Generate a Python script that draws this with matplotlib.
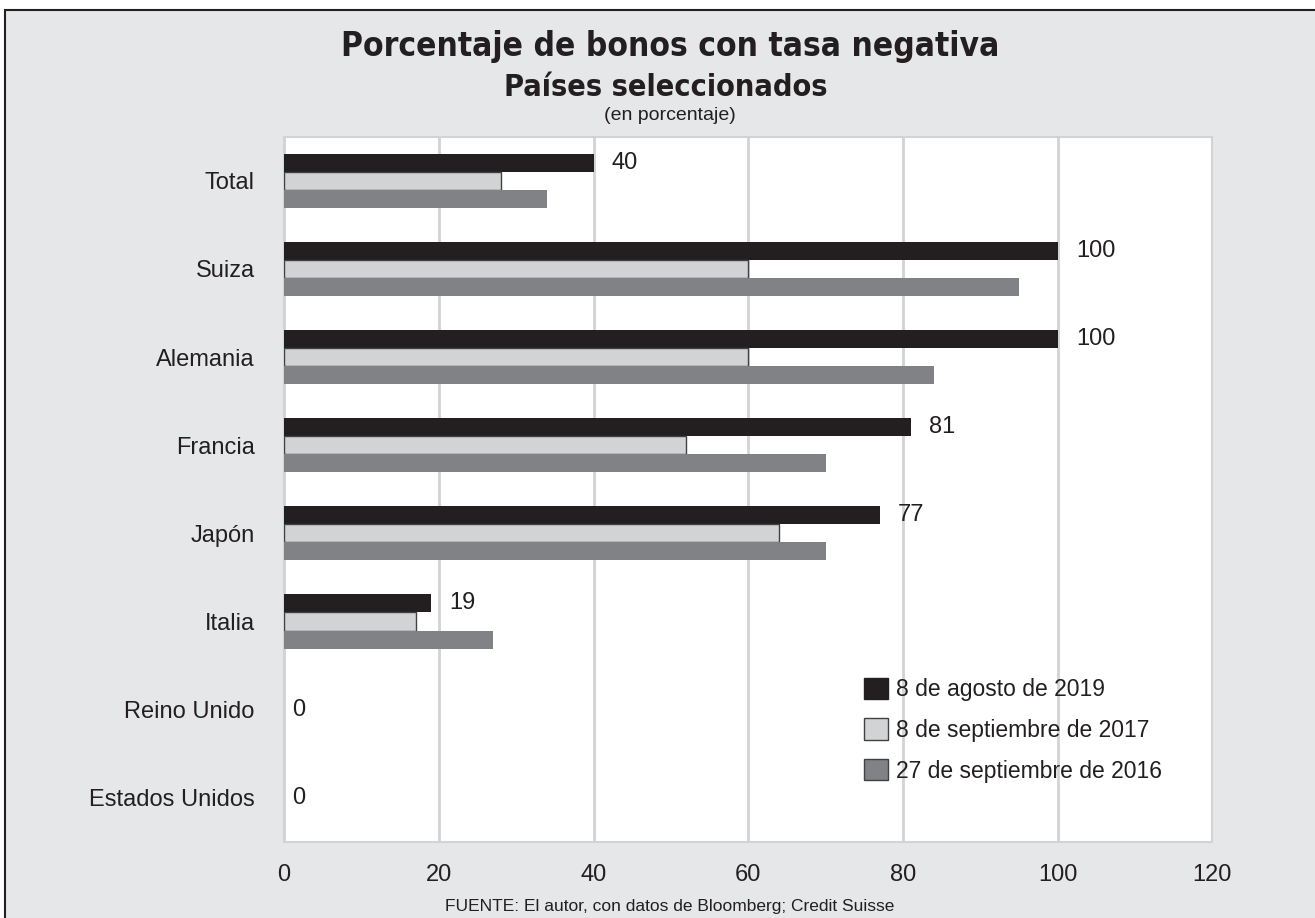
import numpy as np
import matplotlib.pyplot as plt
from matplotlib.patches import Rectangle

# data
paises = ["Total", "Suiza", "Alemania", "Francia", "Japón", "Italia",
          "Reino Unido", "Estados Unidos"]
ago_2019 = [40, 100, 100, 81, 77, 19, 0, 0]
sep_2017 = [28, 60, 60, 52, 64, 17, 0, 0]
sep_2016 = [34, 95, 84, 70, 70, 27, 0, 0]
series_labels = ["8 de agosto de 2019", "8 de septiembre de 2017",
                 "27 de septiembre de 2016"]
xticks = [0, 20, 40, 60, 80, 100, 120]

plt.rcParams['font.family'] = ['Liberation Sans', 'DejaVu Sans']
plt.rcParams['text.color'] = '#231f20'

fig = plt.figure(figsize=(13.15, 9.18), dpi=100)
fig.patches.append(Rectangle((0.004, -0.05), 1.1, 1.039, transform=fig.transFigure,
                             facecolor='#e6e7e8', edgecolor='#231f20', lw=1.5, zorder=-5))

ax = fig.add_axes([0.216, 0.083, 0.706, 0.768])
y = np.arange(len(paises))
h = 0.205
ax.barh(y - h, ago_2019, height=h, color='#231f20', label=series_labels[0], zorder=3)
b2 = ax.barh(y, sep_2017, height=h, color='#d1d3d4', edgecolor='#414042', lw=1,
             label=series_labels[1], zorder=3)
ax.barh(y + h, sep_2016, height=h, color='#808285', label=series_labels[2], zorder=3)
# empty bars should not leave an outline at zero
for bar, v in zip(b2, sep_2017):
    if v == 0:
        bar.set_visible(False)

# value labels for the 2019 series
for i, v in enumerate(ago_2019):
    if v > 0:
        ax.annotate(str(v), (v, i - h), xytext=(13, 0), textcoords='offset points',
                    va='center', ha='left', fontsize=17)
    else:
        ax.annotate(str(v), (v, i), xytext=(6, 0), textcoords='offset points',
                    va='center', ha='left', fontsize=17)

ax.set_xlim(0, 120)
ax.set_ylim(len(paises) - 0.5, -0.5)
ax.set_xticks(xticks)
ax.set_yticks(y)
ax.set_yticklabels(paises)
ax.tick_params(axis='both', length=0, labelsize=17, colors='#231f20')
ax.tick_params(axis='y', pad=21)
ax.tick_params(axis='x', pad=16)
ax.grid(axis='x', color='#d1d3d4', lw=2, zorder=0)
ax.set_axisbelow(True)
for s in ax.spines.values():
    s.set_color('#d1d3d4')
    s.set_linewidth(1.5)

leg = ax.legend(loc='lower right', bbox_to_anchor=(0.956, 0.071), frameon=False,
                fontsize=16.5, handlelength=1.05, handleheight=1.05,
                handletextpad=0.35, labelspacing=0.75, borderaxespad=0)
leg.legend_handles[0].set_edgecolor('#231f20')
leg.legend_handles[2].set_edgecolor('#414042')
leg.legend_handles[2].set_linewidth(1)

fig.text(0.5095, 0.949, "Porcentaje de bonos con tasa negativa", ha='center', va='center',
         fontsize=24, fontweight='bold', family='DejaVu Sans', fontstretch='condensed')
fig.text(0.5065, 0.905, "Países seleccionados", ha='center', va='center',
         fontsize=22, fontweight='bold', family='DejaVu Sans', fontstretch='condensed')
fig.text(0.5095, 0.874, "(en porcentaje)", ha='center', va='center', fontsize=14)
fig.text(0.5095, 0.013, "FUENTE: El autor, con datos de Bloomberg; Credit Suisse",
         ha='center', va='center', fontsize=12.5)

fig.savefig("out.png", dpi=100)
